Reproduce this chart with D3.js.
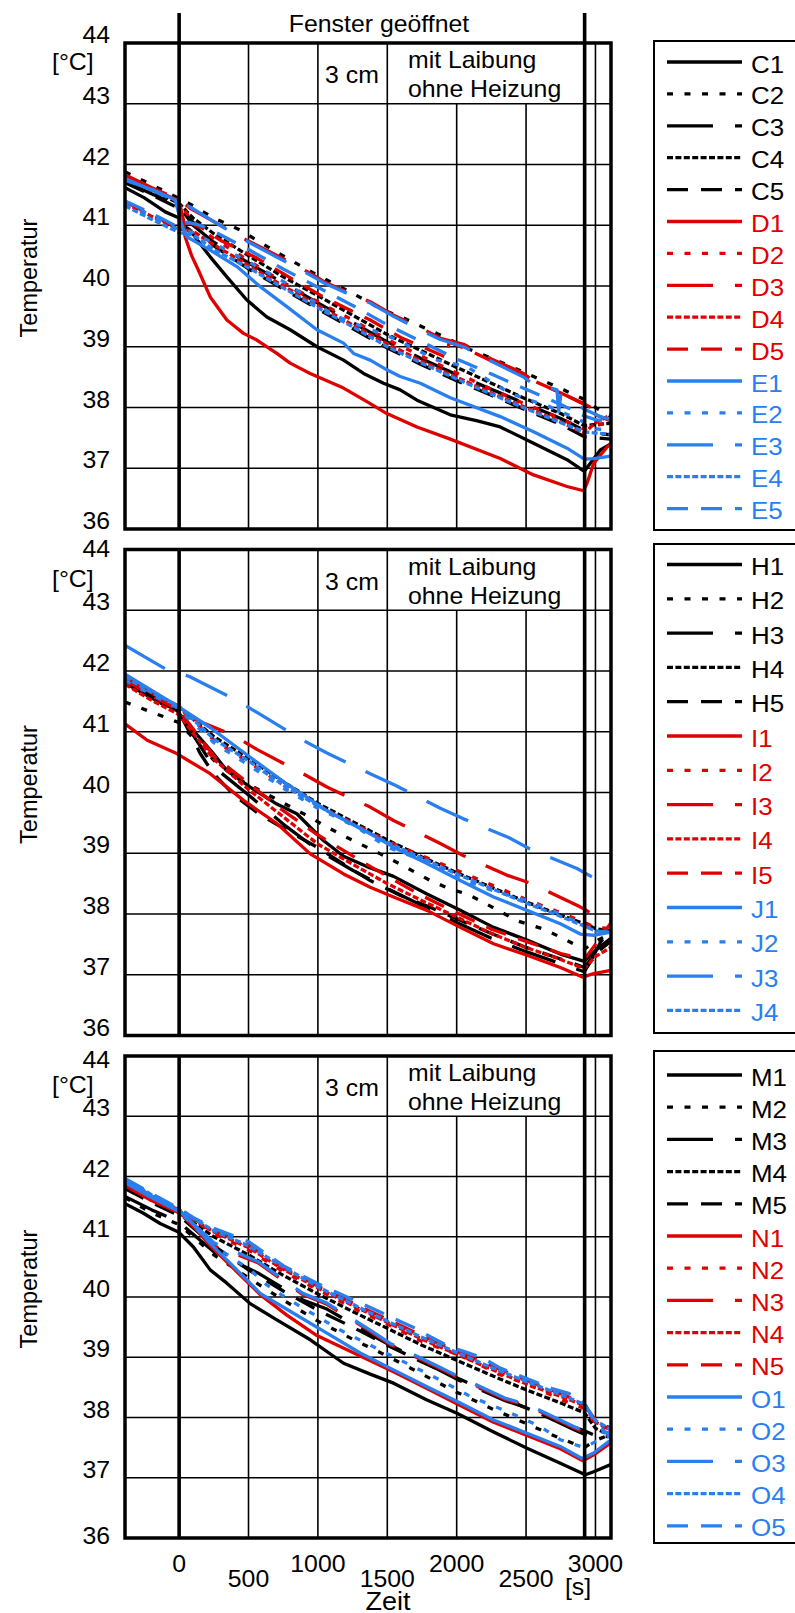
<!DOCTYPE html>
<html><head><meta charset="utf-8">
<script src="https://cdn.jsdelivr.net/npm/d3@7"></script>
<style>body{margin:0;background:#fff}svg{display:block}</style>
</head><body><svg id="chart" width="795" height="1613"></svg>
<script>
// ---------------- DATA ----------------
const yTicks = [36, 37, 38, 39, 40, 41, 42, 43, 44];
const xTicks = [0, 500, 1000, 1500, 2000, 2500, 3000];
const xTickLabels = ["0", "500", "1000", "1500", "2000", "2500", "3000"];
const windowOpenT = 0;
const windowCloseT = 2922;
const tMin = -390, tMax = 3112;
const panelTitles = ["3 cm", "mit Laibung", "ohne Heizung"];
const topTitle = "Fenster geöffnet";
const xUnit = "[s]", xTitle = "Zeit", yTitle = "Temperatur", yUnit = "[°C]";

const names1 = ["C1","C2","C3","C4","C5","D1","D2","D3","D4","D5","E1","E2","E3","E4","E5"];
const names2 = ["H1","H2","H3","H4","H5","I1","I2","I3","I4","I5","J1","J2","J3","J4"];
const names3 = ["M1","M2","M3","M4","M5","N1","N2","N3","N4","N5","O1","O2","O3","O4","O5"];

// panel 1
const C1 = [[-390,41.62],[-250,41.45],[-100,41.22],[0,41.12],[30,41.0],[79,40.92],[150,40.7],[224,40.48],[344,40.15],[488,39.77],[632,39.49],[800,39.28],[993,39.0],[1185,38.78],[1329,38.56],[1473,38.4],[1593,38.29],[1714,38.12],[1954,37.88],[2150,37.78],[2314,37.68],[2554,37.41],[2795,37.14],[2920,36.95],[3035,37.3],[3110,37.4]];
const C2 = [[-390,41.88],[-200,41.67],[0,41.44],[70,41.36],[250,41.12],[440,40.92],[700,40.56],[993,40.18],[1250,39.88],[1473,39.6],[1593,39.5],[1750,39.33],[1930,39.14],[2100,38.95],[2314,38.75],[2554,38.51],[2771,38.29],[2920,38.13],[3000,38.0],[3110,37.85]];
const C3 = [[-390,41.72],[-200,41.52],[0,41.32],[100,41.0],[250,40.72],[500,40.38],[750,40.05],[1000,39.72],[1250,39.4],[1500,39.08],[1750,38.8],[2000,38.54],[2250,38.3],[2500,38.06],[2750,37.82],[2920,37.62],[3000,37.58],[3110,37.55]];
const C4 = [[-390,41.78],[-200,41.58],[0,41.36],[100,41.12],[250,40.86],[500,40.5],[750,40.15],[1000,39.84],[1250,39.52],[1500,39.2],[1750,38.93],[2000,38.66],[2250,38.4],[2500,38.14],[2750,37.9],[2920,37.7],[3000,37.72],[3110,37.74]];
const C5 = [[-390,41.7],[-200,41.5],[0,41.28],[100,41.05],[250,40.66],[500,40.28],[750,39.95],[1000,39.62],[1250,39.3],[1500,38.98],[1750,38.7],[2000,38.44],[2250,38.2],[2500,37.96],[2750,37.72],[2920,37.52],[3000,37.5],[3110,37.48]];
const D1 = [[-390,41.8],[-200,41.6],[-17,41.42],[10,41.3],[31,41.09],[43,40.81],[90,40.5],[139,40.26],[224,39.82],[344,39.44],[464,39.22],[560,39.11],[704,38.89],[800,38.73],[944,38.56],[1185,38.32],[1350,38.1],[1497,37.9],[1714,37.68],[1954,37.48],[2314,37.16],[2554,36.89],[2795,36.7],[2915,36.63],[2939,36.75],[2987,37.08],[3084,37.35],[3110,37.4]];
const D2 = [[-390,41.8],[-200,41.6],[0,41.38],[100,41.05],[250,40.78],[500,40.42],[750,40.06],[1000,39.74],[1250,39.44],[1500,39.12],[1750,38.84],[2000,38.57],[2250,38.3],[2500,38.05],[2750,37.82],[2920,37.64],[3000,37.7],[3110,37.76]];
const D3 = [[-390,41.83],[-200,41.62],[0,41.42],[79,41.28],[250,41.06],[440,40.81],[560,40.67],[750,40.45],[945,40.21],[1053,40.06],[1250,39.86],[1377,39.74],[1545,39.52],[1750,39.3],[1882,39.14],[2050,39.04],[2250,38.8],[2482,38.56],[2550,38.44],[2750,38.24],[2920,38.06],[3000,37.96],[3110,37.92]];
const D4 = [[-390,41.36],[-200,41.15],[0,40.94],[100,40.9],[250,40.68],[500,40.34],[750,40.0],[1000,39.68],[1250,39.36],[1500,39.05],[1750,38.76],[2000,38.5],[2250,38.24],[2500,38.0],[2750,37.76],[2920,37.58],[3000,37.75],[3110,37.88]];
const D5 = [[-390,41.39],[-200,41.17],[0,40.95],[60,41.05],[150,40.98],[300,40.75],[560,40.46],[872,40.04],[1040,39.82],[1377,39.44],[1600,39.15],[1800,38.95],[1930,38.82],[1945,39.08],[2100,38.93],[2314,38.7],[2554,38.44],[2771,38.22],[2920,38.05],[3000,37.88],[3110,37.78]];
const E1 = [[-390,41.74],[-185,41.58],[-29,41.42],[20,41.0],[55,40.81],[224,40.59],[416,40.32],[584,39.99],[776,39.66],[993,39.28],[1185,39.06],[1257,38.89],[1377,38.78],[1497,38.62],[1593,38.51],[1738,38.4],[1954,38.16],[2314,37.85],[2554,37.6],[2795,37.33],[2920,37.15],[2987,37.16],[3110,37.2]];
const E2 = [[-390,41.38],[-200,41.16],[0,40.92],[100,40.88],[250,40.7],[500,40.4],[776,40.04],[1000,39.7],[1113,39.52],[1300,39.35],[1545,39.14],[1858,38.78],[2074,38.67],[2386,38.23],[2675,38.01],[2891,37.79],[3000,37.65],[3110,37.62]];
const E3 = [[-390,41.77],[-200,41.58],[0,41.38],[79,41.3],[250,41.06],[440,40.8],[560,40.65],[750,40.42],[945,40.18],[1053,40.04],[1250,39.84],[1377,39.72],[1545,39.5],[1750,39.26],[1882,39.12],[2050,39.0],[2250,38.76],[2482,38.5],[2530,38.42],[2723,38.29],[2735,37.93],[2750,38.2],[2920,37.97],[3035,37.85],[3110,37.8]];
const E4 = [[-390,41.32],[-200,41.1],[0,40.88],[100,40.84],[250,40.6],[500,40.3],[750,39.97],[1000,39.64],[1250,39.33],[1500,39.0],[1750,38.73],[2000,38.47],[2250,38.22],[2500,37.98],[2750,37.75],[2920,37.6],[3000,37.58],[3110,37.56]];
const E5 = [[-390,41.4],[-200,41.2],[0,40.96],[60,41.05],[150,41.0],[250,40.9],[500,40.6],[750,40.28],[1000,39.98],[1250,39.68],[1500,39.36],[1750,39.08],[2000,38.8],[2250,38.55],[2500,38.3],[2750,38.05],[2920,37.86],[3000,37.8],[3110,37.76]];

// panel 2
const H1 = [[-390,41.84],[-185,41.57],[-17,41.35],[103,41.02],[247,40.64],[344,40.36],[512,40.09],[704,39.81],[848,39.65],[1040,39.21],[1185,38.95],[1353,38.78],[1545,38.62],[1786,38.33],[2026,38.06],[2266,37.78],[2507,37.57],[2747,37.34],[2920,37.22],[3000,37.4],[3110,37.6]];
const H2 = [[-390,41.49],[-45,41.19],[0,41.15],[100,40.9],[263,40.5],[450,40.2],[610,40.0],[945,39.59],[1065,39.43],[1209,39.26],[1449,38.99],[1593,38.82],[1810,38.55],[1954,38.41],[2074,38.33],[2194,38.19],[2434,37.89],[2627,37.75],[2747,37.62],[2867,37.48],[2920,37.42],[3000,37.55],[3110,37.68]];
const H3 = [[-390,41.8],[-200,41.56],[0,41.3],[100,40.95],[250,40.42],[500,39.96],[750,39.48],[1000,39.05],[1250,38.72],[1500,38.42],[1750,38.14],[2000,37.86],[2250,37.6],[2500,37.38],[2750,37.18],[2920,37.05],[2960,37.2],[3040,37.55],[3110,37.72]];
const H4 = [[-390,41.86],[-200,41.62],[0,41.4],[250,40.92],[500,40.56],[750,40.18],[1000,39.82],[1250,39.52],[1500,39.22],[1750,38.94],[2000,38.68],[2250,38.44],[2500,38.2],[2750,37.98],[2920,37.84],[3000,37.76],[3110,37.72]];
const H5 = [[-390,41.82],[-200,41.58],[0,41.32],[55,41.08],[150,40.65],[247,40.31],[400,39.95],[584,39.63],[800,39.35],[993,39.1],[1200,38.8],[1377,38.55],[1600,38.3],[1800,38.12],[2000,37.92],[2250,37.68],[2500,37.45],[2750,37.26],[2920,37.12],[3000,37.35],[3110,37.55]];
const I1 = [[-390,41.13],[-230,40.86],[-17,40.64],[224,40.31],[464,39.87],[704,39.49],[945,38.99],[1185,38.66],[1377,38.44],[1545,38.28],[1786,38.06],[2026,37.78],[2266,37.51],[2507,37.32],[2747,37.12],[2910,36.96],[2987,37.02],[3110,37.07]];
const I2 = [[-390,41.88],[-200,41.64],[0,41.42],[250,40.86],[500,40.5],[750,40.12],[1000,39.78],[1250,39.5],[1500,39.2],[1750,38.96],[2000,38.72],[2250,38.48],[2500,38.24],[2750,38.02],[2920,37.86],[3000,37.78],[3110,37.76]];
const I3 = [[-390,41.9],[-200,41.64],[0,41.4],[74,41.24],[392,40.94],[560,40.71],[900,40.3],[1065,40.09],[1377,39.76],[1545,39.54],[1882,39.16],[2050,38.96],[2360,38.64],[2540,38.5],[2870,38.14],[2920,38.08],[3030,37.92],[3110,37.87]];
const I4 = [[-390,41.78],[-200,41.52],[0,41.28],[100,40.98],[250,40.55],[500,40.05],[750,39.6],[1000,39.15],[1250,38.82],[1500,38.5],[1750,38.22],[2000,37.95],[2250,37.68],[2500,37.45],[2750,37.25],[2920,37.1],[3000,37.3],[3110,37.45]];
const I5 = [[-390,41.85],[-200,41.6],[0,41.35],[100,41.05],[250,40.6],[500,40.15],[750,39.7],[1000,39.3],[1305,38.88],[1500,38.62],[1750,38.3],[2000,38.02],[2250,37.75],[2500,37.55],[2750,37.35],[2920,37.25],[3000,37.5],[3110,37.85]];
const J1 = [[-390,41.95],[-17,41.43],[224,41.07],[512,40.58],[776,40.14],[1065,39.7],[1377,39.32],[1545,39.1],[1786,38.83],[2026,38.55],[2266,38.28],[2507,38.06],[2747,37.84],[2891,37.67],[2987,37.65],[3110,37.7]];
const J2 = [[-390,41.84],[-17,41.4],[250,40.82],[500,40.45],[750,40.07],[1000,39.74],[1280,39.43],[1500,39.1],[1760,38.88],[2000,38.6],[2266,38.38],[2507,38.22],[2747,38.0],[2891,37.84],[3000,37.72],[3110,37.7]];
const J3 = [[-389,42.42],[-89,42.02],[74,41.91],[404,41.53],[567,41.31],[892,40.86],[1065,40.65],[1377,40.31],[1557,40.12],[1882,39.74],[2045,39.57],[2374,39.26],[2536,39.06],[2867,38.75],[3030,38.54],[3110,38.47]];
const J4 = [[-390,41.9],[-200,41.65],[0,41.42],[250,40.88],[500,40.52],[750,40.12],[1000,39.78],[1250,39.48],[1500,39.18],[1750,38.92],[2000,38.66],[2250,38.42],[2500,38.18],[2750,37.96],[2920,37.8],[3000,37.72],[3110,37.7]];

// panel 3
const M1 = [[-389,41.55],[-257,41.39],[-137,41.22],[-5,41.08],[103,40.83],[224,40.45],[344,40.23],[512,39.89],[704,39.62],[945,39.29],[1185,38.9],[1377,38.72],[1545,38.57],[1786,38.29],[2002,38.07],[2266,37.76],[2507,37.49],[2747,37.24],[2927,37.05],[2987,37.1],[3110,37.22]];
const M2 = [[-390,41.65],[-200,41.4],[0,41.2],[250,40.7],[512,40.3],[750,39.95],[1000,39.6],[1250,39.3],[1500,39.02],[1750,38.72],[2000,38.42],[2250,38.15],[2500,37.9],[2750,37.65],[2920,37.5],[3000,37.62],[3110,37.72]];
const M3 = [[-390,41.67],[-200,41.45],[-5,41.25],[250,40.75],[567,40.4],[892,39.95],[1065,39.8],[1377,39.38],[1521,39.2],[1846,38.82],[2014,38.62],[2350,38.28],[2518,38.15],[2843,37.8],[2920,37.72],[3000,37.7],[3110,37.72]];
const M4 = [[-390,41.85],[-200,41.62],[0,41.4],[250,41.0],[500,40.7],[750,40.36],[1000,40.05],[1250,39.76],[1500,39.48],[1750,39.2],[2000,38.95],[2250,38.7],[2500,38.46],[2750,38.24],[2920,38.08],[3000,37.82],[3110,37.7]];
const M5 = [[-390,41.8],[-200,41.57],[0,41.35],[250,40.85],[500,40.45],[750,40.1],[1000,39.78],[1250,39.5],[1500,39.2],[1750,38.92],[2000,38.66],[2250,38.4],[2500,38.16],[2750,37.92],[2920,37.78],[3000,37.7],[3110,37.68]];
const N1 = [[-390,41.85],[-200,41.6],[0,41.4],[55,41.3],[224,40.85],[416,40.42],[584,40.04],[776,39.7],[993,39.36],[1305,39.02],[1545,38.76],[1786,38.48],[2026,38.2],[2266,37.92],[2507,37.7],[2747,37.48],[2910,37.28],[2987,37.38],[3110,37.58]];
const N2 = [[-390,41.92],[-200,41.68],[0,41.44],[250,41.05],[500,40.78],[750,40.42],[1000,40.12],[1250,39.82],[1500,39.55],[1750,39.26],[2062,39.0],[2300,38.72],[2500,38.56],[2750,38.3],[2920,38.15],[3000,37.9],[3110,37.8]];
const N3 = [[-390,41.88],[-200,41.62],[0,41.4],[250,40.85],[567,40.57],[892,40.04],[1065,39.88],[1377,39.43],[1521,39.21],[1846,38.85],[2014,38.66],[2350,38.3],[2518,38.19],[2843,37.83],[2920,37.75],[3000,37.8],[3110,37.85]];
const N4 = [[-390,41.9],[-200,41.66],[0,41.43],[250,41.08],[500,40.82],[750,40.46],[1000,40.15],[1250,39.86],[1500,39.58],[1750,39.3],[2000,39.05],[2250,38.8],[2500,38.56],[2750,38.35],[2920,38.2],[3000,37.92],[3110,37.8]];
const N5 = [[-390,41.93],[-200,41.7],[0,41.45],[250,41.1],[500,40.86],[750,40.48],[1000,40.18],[1250,39.9],[1500,39.63],[1750,39.36],[2000,39.1],[2250,38.86],[2500,38.62],[2750,38.4],[2920,38.22],[3000,37.95],[3110,37.82]];
const O1 = [[-390,41.9],[-200,41.65],[0,41.42],[55,41.33],[224,40.89],[416,40.45],[584,40.06],[824,39.73],[1065,39.4],[1305,39.07],[1545,38.79],[1786,38.51],[2026,38.24],[2266,37.96],[2507,37.74],[2747,37.52],[2903,37.32],[2987,37.41],[3095,37.6],[3110,37.62]];
const O2 = [[-390,41.94],[-200,41.68],[0,41.42],[250,40.85],[512,40.45],[632,40.2],[776,39.98],[896,39.81],[1017,39.65],[1137,39.48],[1257,39.34],[1377,39.2],[1762,38.76],[1882,38.62],[2098,38.35],[2362,38.1],[2603,37.85],[2747,37.63],[2920,37.5],[3000,37.6],[3110,37.7]];
const O3 = [[-390,41.95],[-200,41.68],[0,41.43],[250,40.9],[567,40.59],[892,40.06],[1065,39.9],[1377,39.45],[1521,39.23],[1846,38.87],[2014,38.68],[2350,38.32],[2518,38.21],[2843,37.85],[2920,37.78],[3000,37.76],[3110,37.75]];
const O4 = [[-390,41.96],[-200,41.7],[0,41.45],[250,41.1],[500,40.85],[750,40.5],[1000,40.17],[1250,39.88],[1500,39.6],[1750,39.33],[2000,39.08],[2250,38.83],[2500,38.6],[2750,38.38],[2920,38.22],[3000,37.95],[3110,37.8]];
const O5 = [[-390,41.97],[-200,41.72],[0,41.47],[100,41.32],[250,41.14],[500,40.92],[750,40.52],[1000,40.22],[1305,39.9],[1570,39.62],[1702,39.48],[1810,39.34],[1954,39.17],[2062,39.09],[2194,38.98],[2314,38.82],[2435,38.71],[2554,38.6],[2687,38.48],[2807,38.4],[2891,38.29],[2930,38.2],[3000,37.9],[3110,37.68]];

const series1 = [C1,C2,C3,C4,C5,D1,D2,D3,D4,D5,E1,E2,E3,E4,E5];
const series2 = [H1,H2,H3,H4,H5,I1,I2,I3,I4,I5,J1,J2,J3,J4];
const series3 = [M1,M2,M3,M4,M5,N1,N2,N3,N4,N5,O1,O2,O3,O4,O5];

// ---------------- STYLE / LAYOUT ----------------
const FONT = '"Liberation Sans", Arial, Helvetica, sans-serif';
const SX = 1.08;
const groupColor = ["#000000", "#e00000", "#2a7ff0"];
const dashes = [null, "6,11.5", "46,22", "6,2.4", "21,13"];
const panels = [
  {top: 43, bottom: 529, names: names1, data: series1, unitDy: 27, top44: 0, bot36: 0,
   leg: {top: 41, bottom: 530, first: 62, step: 31.9}},
  {top: 549.5, bottom: 1035.5, names: names2, data: series2, unitDy: 37, top44: 7, bot36: 0,
   leg: {top: 544, bottom: 1033, first: 564.5, step: 34.3}},
  {top: 1056, bottom: 1538, names: names3, data: series3, unitDy: 37, top44: 12, bot36: 6,
   leg: {top: 1051, bottom: 1543, first: 1075, step: 32.2}}
];
const X0 = 125, X1 = 611;

const svg = d3.select("#chart");
svg.append("rect").attr("width", 795).attr("height", 1613).attr("fill", "#fff");

const x = d3.scaleLinear().domain([tMin, tMax]).range([X0, X1]);

function txt(g, s, px, py, size, anchor, color, rot, sx) {
  const k = sx === undefined ? SX : sx;
  return g.append("text")
    .attr("transform", `translate(${px},${py})` + (rot ? ` rotate(${rot})` : "") + ` scale(${k},1)`)
    .attr("text-anchor", anchor || "start")
    .attr("font-family", FONT)
    .attr("font-size", size)
    .attr("fill", color || "#000")
    .text(s);
}

panels.forEach((p, pi) => {
  const g = svg.append("g");
  const y = d3.scaleLinear().domain([36, 44]).range([p.bottom, p.top]);
  const row43 = y(43);

  const cid = "clip" + pi;
  svg.append("clipPath").attr("id", cid).append("rect")
    .attr("x", X0).attr("y", p.top).attr("width", X1 - X0).attr("height", p.bottom - p.top);

  // horizontal grid
  g.selectAll(".hg").data(yTicks.filter(v => v > 36 && v < 44)).join("line")
    .attr("x1", X0).attr("x2", X1).attr("y1", d => y(d)).attr("y2", d => y(d))
    .attr("stroke", "#000").attr("stroke-width", 1.6);
  // vertical grid (text box in the top row between 1500 s and window close)
  g.selectAll(".vg").data(xTicks.filter(v => v !== 0)).join("line")
    .attr("x1", d => x(d)).attr("x2", d => x(d))
    .attr("y1", d => (d === 2000 || d === 2500) ? row43 : p.top).attr("y2", p.bottom)
    .attr("stroke", "#000").attr("stroke-width", 1.6);

  // series
  const line = d3.line().x(d => x(d[0])).y(d => y(d[1]));
  const lg = g.append("g").attr("clip-path", `url(#${cid})`);
  p.data.forEach((s, i) => {
    const grp = Math.floor(i / 5), pat = i % 5;
    lg.append("path").datum(s).attr("d", line)
      .attr("fill", "none").attr("stroke", groupColor[grp]).attr("stroke-width", 3.3)
      .attr("stroke-linejoin", "round")
      .attr("stroke-dasharray", dashes[pat]);
  });

  // window open / close lines
  [windowOpenT, windowCloseT].forEach(t => {
    g.append("line").attr("x1", x(t)).attr("x2", x(t))
      .attr("y1", pi === 0 ? 13 : p.top).attr("y2", p.bottom)
      .attr("stroke", "#000").attr("stroke-width", 3.6);
  });

  // frame
  g.append("rect").attr("x", X0).attr("y", p.top).attr("width", X1 - X0).attr("height", p.bottom - p.top)
    .attr("fill", "none").attr("stroke", "#000").attr("stroke-width", 3.5);

  // y tick labels
  yTicks.forEach(v => {
    const dy = v === 44 ? p.top44 : (v === 36 ? p.bot36 : 0);
    txt(g, String(v), 110, y(v) + dy, 23, "end");
  });
  txt(g, yUnit, 52, p.top + p.unitDy, 23, "start");
  txt(g, yTitle, 37, (p.top + p.bottom) / 2 - 8, 24, "middle", "#000", -90, 0.98);

  // panel texts
  txt(g, panelTitles[0], 352, p.top + 40, 23, "middle");
  txt(g, panelTitles[1], 408, p.top + 25, 23, "start");
  txt(g, panelTitles[2], 408, p.top + 54, 23, "start");

  // legend
  const L = p.leg;
  const lgd = svg.append("g");
  lgd.append("rect").attr("x", 654).attr("y", L.top).attr("width", 160).attr("height", L.bottom - L.top)
    .attr("fill", "#fff").attr("stroke", "#000").attr("stroke-width", 2);
  p.names.forEach((n, i) => {
    const grp = Math.floor(i / 5), pat = i % 5;
    const ly = L.first + i * L.step;
    lgd.append("line").attr("x1", 667).attr("x2", 742).attr("y1", ly).attr("y2", ly)
      .attr("stroke", groupColor[grp]).attr("stroke-width", 3.3)
      .attr("stroke-dasharray", dashes[pat]);
    txt(lgd, n, 751, ly + 10.5, 24, "start", groupColor[grp]);
  });
});

// top title
txt(svg, topTitle, 379, 32, 23, "middle");

// x tick labels (bottom panel only), staggered
const yb = 1538;
xTicks.forEach((t, i) => {
  txt(svg, xTickLabels[i], x(t), yb + (i % 2 === 0 ? 34 : 49), 23, "middle");
});
txt(svg, xUnit, 578, yb + 57, 23, "middle");
txt(svg, xTitle, 388, 1610, 25, "middle");
</script></body></html>
